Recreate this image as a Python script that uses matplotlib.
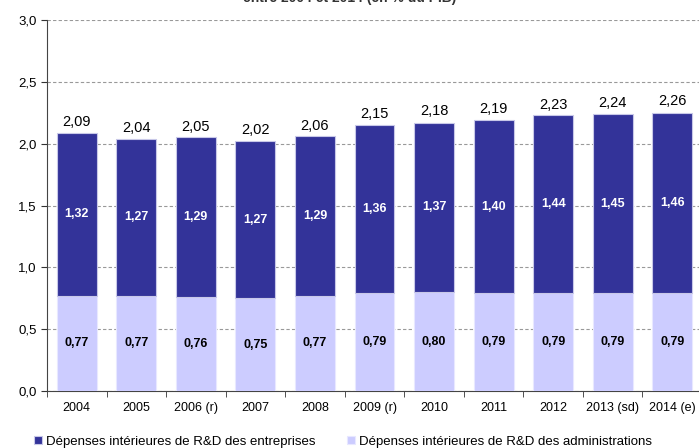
import matplotlib
matplotlib.use("Agg")
import matplotlib.pyplot as plt
import numpy as np

years = ["2004", "2005", "2006 (r)", "2007", "2008", "2009 (r)", "2010", "2011", "2012", "2013 (sd)", "2014 (e)"]
admin = [0.77, 0.77, 0.76, 0.75, 0.77, 0.79, 0.80, 0.79, 0.79, 0.79, 0.79]
entreprises = [1.32, 1.27, 1.29, 1.27, 1.29, 1.36, 1.37, 1.40, 1.44, 1.45, 1.46]
totals = [2.09, 2.04, 2.05, 2.02, 2.06, 2.15, 2.18, 2.19, 2.23, 2.24, 2.26]

dark = "#333399"
light = "#CCCCFF"

plt.rcParams['font.family'] = ['Liberation Sans', 'DejaVu Sans']

fig = plt.figure(figsize=(6.99, 4.48), dpi=100)
ax = fig.add_axes([47/699, 1 - 391/448, 655/699, 371/448])

x = np.arange(len(years))
w = 0.67
ax.bar(x, admin, w, color=light, edgecolor="#e8e8ff", linewidth=0.8, zorder=3,
       label="Dépenses intérieures de R&D des administrations")
ax.bar(x, entreprises, w, bottom=admin, color=dark, edgecolor="#c8c8e8", linewidth=0.8, zorder=3,
       label="Dépenses intérieures de R&D des entreprises")

def fr(v):
    return f"{v:.2f}".replace(".", ",")

for i in range(len(years)):
    ax.text(x[i], admin[i] / 2, fr(admin[i]), ha="center", va="center",
            fontsize=9, fontweight="bold", color="black", zorder=4)
    ax.text(x[i], admin[i] + entreprises[i] / 2, fr(entreprises[i]), ha="center", va="center",
            fontsize=9, fontweight="bold", color="white", zorder=4)
    ax.text(x[i], totals[i] + 0.03, fr(totals[i]), ha="center", va="bottom",
            fontsize=10.5, color="black", zorder=4)

ax.set_xlim(-0.5, len(years) - 0.5)
ax.set_ylim(0, 3.0)
yt = np.arange(0, 3.01, 0.5)
ax.set_yticks(yt)
ax.set_yticklabels([f"{v:.1f}".replace(".", ",") for v in yt], fontsize=9.5)
ax.yaxis.grid(True, linestyle=(0, (3, 2)), color="#999999", linewidth=0.8, zorder=0)
ax.set_axisbelow(True)

ax.set_xticks(x)
ax.set_xticklabels(years, fontsize=9)
ax.tick_params(axis="x", which="major", length=0, pad=8)
ax.set_xticks(np.arange(-0.5, len(years), 1.0), minor=True)
ax.tick_params(axis="x", which="minor", length=4, direction="out", color="#333333")
ax.tick_params(axis="y", length=4, direction="out", color="#333333")

for s in ["top", "right"]:
    ax.spines[s].set_visible(False)
ax.spines["left"].set_color("#444444")
ax.spines["bottom"].set_color("#444444")

handles, labels = ax.get_legend_handles_labels()
fig.legend(handles[::-1], labels[::-1], loc="lower left", bbox_to_anchor=(22/699, -0.026),
           ncol=2, frameon=False, fontsize=9.5, handlelength=0.6, handleheight=0.6,
           handletextpad=0.3, columnspacing=2.4)

fig.text(0.5, 1.005, "entre 2004 et 2014 (en % du PIB)", ha="center", va="center",
         fontsize=10, fontweight="bold", color="#333333")

fig.savefig("out.png", dpi=100)
